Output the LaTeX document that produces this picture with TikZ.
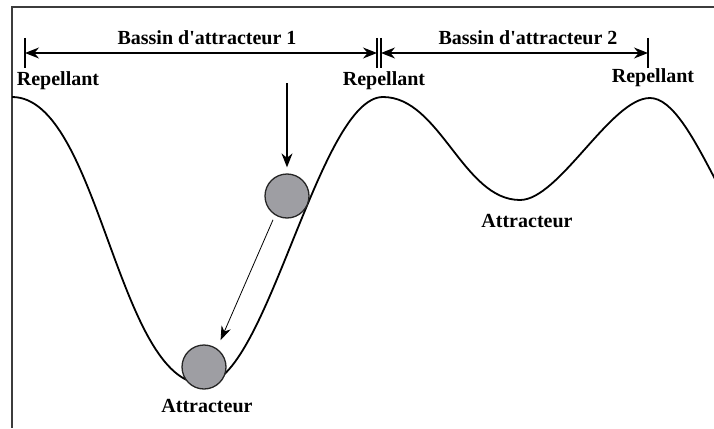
\documentclass[tikz,border=0pt]{standalone}
\usepackage{fontspec}
\setmainfont{Liberation Serif}
\usetikzlibrary{arrows.meta,calc}
\definecolor{ballgray}{RGB}{158,158,163}
\definecolor{framegray}{RGB}{60,60,60}
\begin{document}
\begin{tikzpicture}[x=1pt,y=-1pt,
  lbl/.style={font=\fontsize{20}{24}\selectfont\bfseries, inner sep=0pt, anchor=base},
  curve/.style={line width=1.8pt, black},
  ball/.style={circle, draw=black!85, line width=1.3pt, fill=ballgray, minimum size=44pt, inner sep=0pt},
  dimarrow/.style={line width=1.2pt, {Stealth[length=14pt,width=11pt]}-{Stealth[length=14pt,width=11pt]}},
  tickline/.style={line width=1.2pt},
  framebox/.style={line width=2pt, framegray}]
\useasboundingbox (0,0) rectangle (714,428);
\fill[white] (0,0) rectangle (714,428);
% frame
\draw[framebox] (714,7) -- (12,7) -- (12,428);
% landscape curve
\begin{scope}
  \clip (12,0) rectangle (714,428);
  \draw[curve] (12,97) .. controls (99,97) and (117,384) .. (204,384)
    .. controls (266,384) and (319,97) .. (383,97)
    .. controls (440,97) and (463,200) .. (520,200)
    .. controls (559,200) and (611,98) .. (650,98)
    .. controls (695,98) and (735,260) .. (780,260);
\end{scope}
% dimension lines
\coordinate (tL) at (25,53);
\coordinate (tM1) at (377,53);
\coordinate (tM2) at (381,53);
\coordinate (tR) at (648,53);
\draw[tickline] ($(tL)+(0,-15)$) -- ($(tL)+(0,15)$);
\draw[tickline] ($(tM1)+(0,-15)$) -- ($(tM1)+(0,15)$);
\draw[tickline] ($(tM2)+(0,-15)$) -- ($(tM2)+(0,15)$);
\draw[tickline] ($(tR)+(0,-15)$) -- ($(tR)+(0,15)$);
\draw[dimarrow] (tL) -- (tM1);
\draw[dimarrow] (tM2) -- (tR);
\node[lbl] (b1) at (207,45) {Bassin d\textquotesingle attracteur 1};
\node[lbl] (b2) at (528,45) {Bassin d\textquotesingle attracteur 2};
% labels
\node[lbl] (r1) at (58,85) {Repellant};
\node[lbl] (r2) at (384,85) {Repellant};
\node[lbl] (r3) at (653,82) {Repellant};
\node[lbl] (a1) at (207,412) {Attracteur};
\node[lbl] (a2) at (527,227) {Attracteur};
% balls
\node[ball] (ball1) at (287,196) {};
\node[ball] (ball2) at (204,367) {};
\coordinate (drop) at (287,83);
\draw[line width=1.3pt, -{Stealth[length=14pt,width=11pt]}, shorten >=6pt] (drop) -- (ball1);
\draw[line width=0.8pt, -{Stealth[length=14pt,width=10pt]}, shorten <=5pt, shorten >=9pt] (ball1.238) -- (ball2.55);
\end{tikzpicture}
\end{document}
